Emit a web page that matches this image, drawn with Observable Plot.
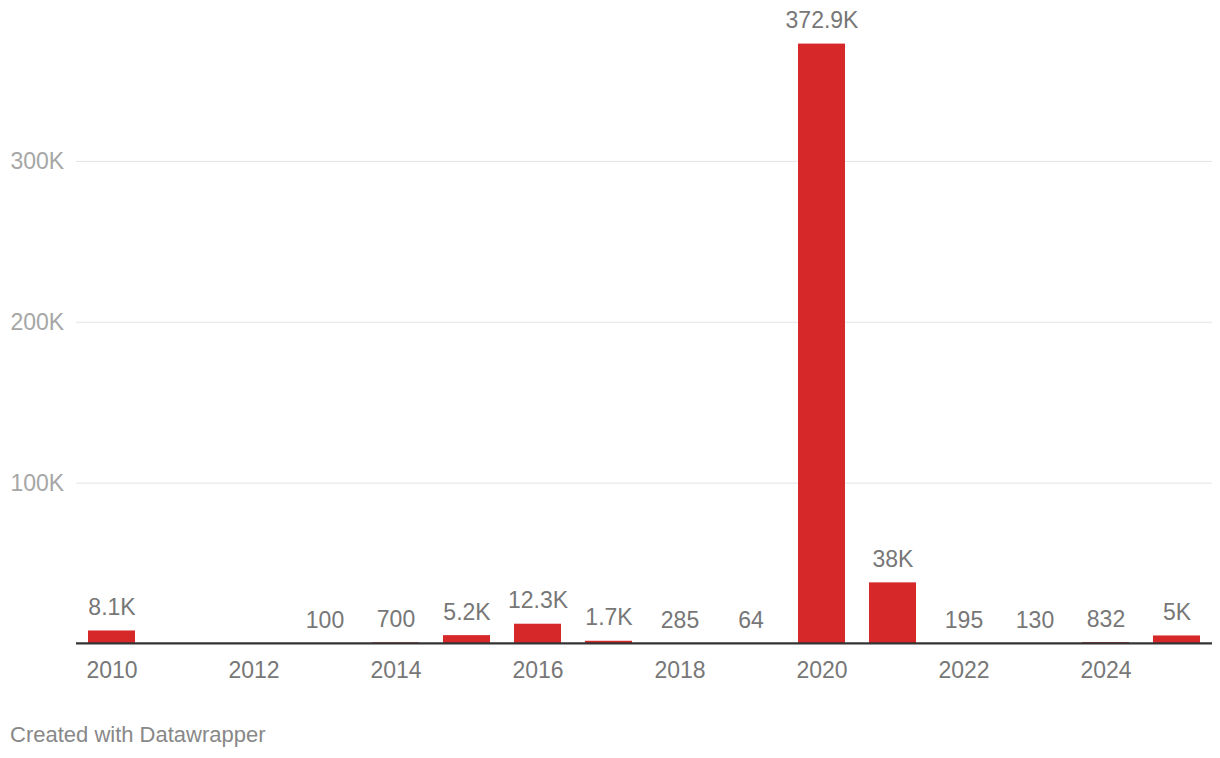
<!DOCTYPE html>
<html>
<head>
<meta charset="utf-8">
<script src="https://cdn.jsdelivr.net/npm/d3@7"></script>
<script src="https://cdn.jsdelivr.net/npm/@observablehq/plot@0.6"></script>
<style>
  html, body { margin: 0; padding: 0; background: #fff; }
  body { width: 1220px; height: 758px; overflow: hidden; font-family: "Liberation Sans", Arial, sans-serif; }
  #chart svg { display: block; }
  #footer { position: absolute; left: 10px; top: 724px; font-size: 22px; color: #888; line-height: 21px; }
</style>
</head>
<body>
<div id="chart"></div>
<div id="footer">Created with Datawrapper</div>
<script>
const years = [2010, 2011, 2012, 2013, 2014, 2015, 2016, 2017, 2018, 2019, 2020, 2021, 2022, 2023, 2024, 2025];
const values = [8100, null, null, 100, 700, 5200, 12300, 1700, 285, 64, 372900, 38000, 195, 130, 832, 5000];
const xTickYears = [2010, 2012, 2014, 2016, 2018, 2020, 2022, 2024];
const yTicks = [100000, 200000, 300000];

const fmt = v => v >= 1000 ? (v / 1000).toFixed(1).replace(/\.0$/, "") + "K" : String(v);
const data = years.map((year, i) => ({year, value: values[i]})).filter(d => d.value != null);

const chart = Plot.plot({
  width: 1220,
  height: 700,
  marginLeft: 76,
  marginRight: 8,
  marginTop: 0,
  marginBottom: 56.5,
  style: {fontFamily: "'Liberation Sans', Arial, sans-serif", fontSize: "23px", background: "#fff"},
  x: {type: "band", domain: years, paddingInner: 0.338, paddingOuter: 0.169, label: null},
  y: {domain: [0, 400000], label: null},
  marks: [
    Plot.gridY(yTicks, {stroke: "#e3e3e3", strokeOpacity: 1, strokeWidth: 1}),
    Plot.axisY(yTicks, {
      anchor: "left", tickSize: 0, tickPadding: 66, textAnchor: "start",
      tickFormat: v => (v / 1000) + "K", fill: "#a6a6a6", fontSize: 23, label: null
    }),
    Plot.barY(data, {x: "year", y: "value", fill: "#d62729"}),
    Plot.text(data, {
      x: "year", y: "value", text: d => fmt(d.value),
      lineAnchor: "bottom", dy: -16, fill: "#777", fontSize: 23
    }),
    Plot.ruleY([0], {stroke: "#333", strokeWidth: 2.2, dy: -0.6}),
    Plot.axisX(xTickYears, {
      anchor: "bottom", tickSize: 0, tickPadding: 18, fill: "#777", fontSize: 23,
      tickFormat: d => String(d), label: null
    })
  ]
});
document.getElementById("chart").appendChild(chart);
</script>
</body>
</html>
